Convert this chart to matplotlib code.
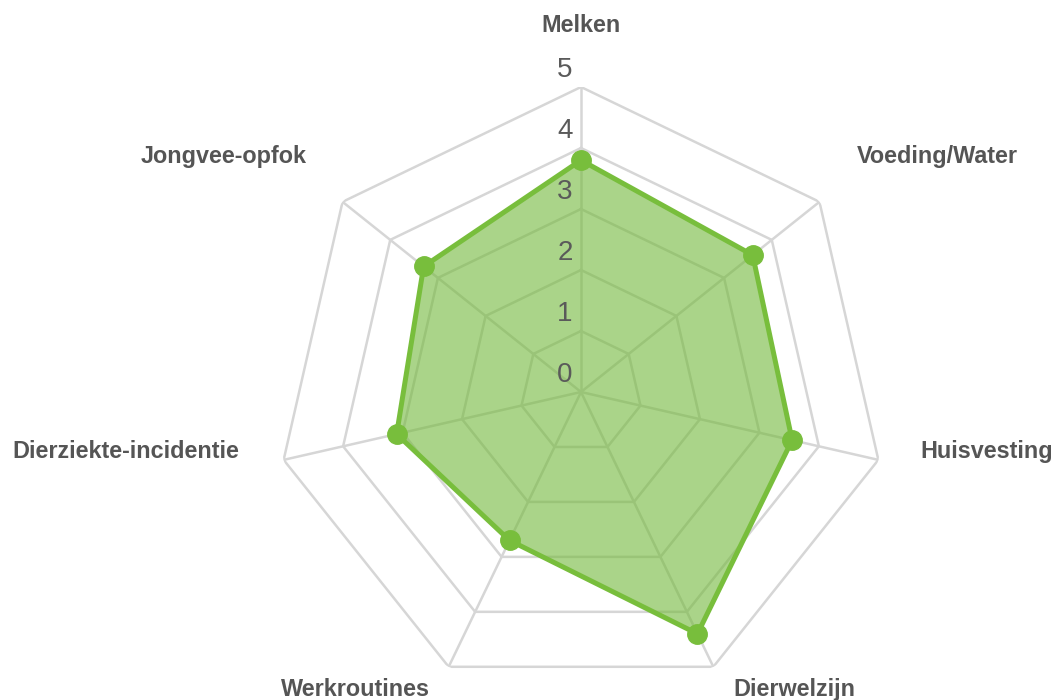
import numpy as np
import matplotlib
matplotlib.use("Agg")
import matplotlib.pyplot as plt

categories = ["Melken", "Voeding/Water", "Huisvesting", "Dierwelzijn",
              "Werkroutines", "Dierziekte-incidentie", "Jongvee-opfok"]
values = [3.8, 3.6, 3.55, 4.4, 2.7, 3.1, 3.3]
ticks = [0, 1, 2, 3, 4, 5]

plt.rcParams['font.family'] = ['Liberation Sans', 'DejaVu Sans']

fig = plt.figure(figsize=(10.57, 7.0), dpi=100)
W, H = 1057, 700
cx, cy, R = 581, 392, 305
ax = fig.add_axes([(cx - R) / W, (H - cy - R) / H, 2 * R / W, 2 * R / H], projection='polar')
ax.set_theta_offset(np.pi / 2)
ax.set_theta_direction(-1)
ax.set_ylim(0, 5)
ax.grid(False)
ax.set_xticks([])
ax.set_yticks([])
ax.spines['polar'].set_visible(False)
ax.patch.set_alpha(0)

n = len(categories)
angles = np.linspace(0, 2 * np.pi, n, endpoint=False)
closed = np.concatenate([angles, angles[:1]])

gridc = '#d6d6d6'
for t in ticks[1:]:
    ax.plot(closed, [t] * (n + 1), color=gridc, lw=1.8, zorder=1)
for a in angles:
    ax.plot([a, a], [0, 5], color=gridc, lw=1.8, zorder=1)

vals = np.array(values + values[:1])
ax.fill(closed, vals, color='#72b83a', alpha=0.6, zorder=2, lw=0)
ax.plot(closed, vals, color='#78be3c', lw=3.6, zorder=3)
ax.plot(angles, values, 'o', color='#78be3c', ms=14, zorder=4)

for t in ticks:
    ax.annotate(str(t), xy=(0, t), xytext=(-16, 17), textcoords='offset pixels',
                ha='center', va='center', fontsize=20, color='#5a5a5a', zorder=5,
                annotation_clip=False)

offsets = [(0, 62, 'center'), (118, 45, 'center'), (42, 8, 'left'), (20, -23, 'left'),
           (-19, -23, 'right'), (-44, 8, 'right'), (-119, 45, 'center')]
for a, lab, (dx, dy, ha) in zip(angles, categories, offsets):
    ax.annotate(lab, xy=(a, 5), xytext=(dx, dy), textcoords='offset pixels',
                ha=ha, va='center', fontsize=16.8, fontweight='bold', color='#555555',
                annotation_clip=False)

fig.savefig('out.png', dpi=100)
